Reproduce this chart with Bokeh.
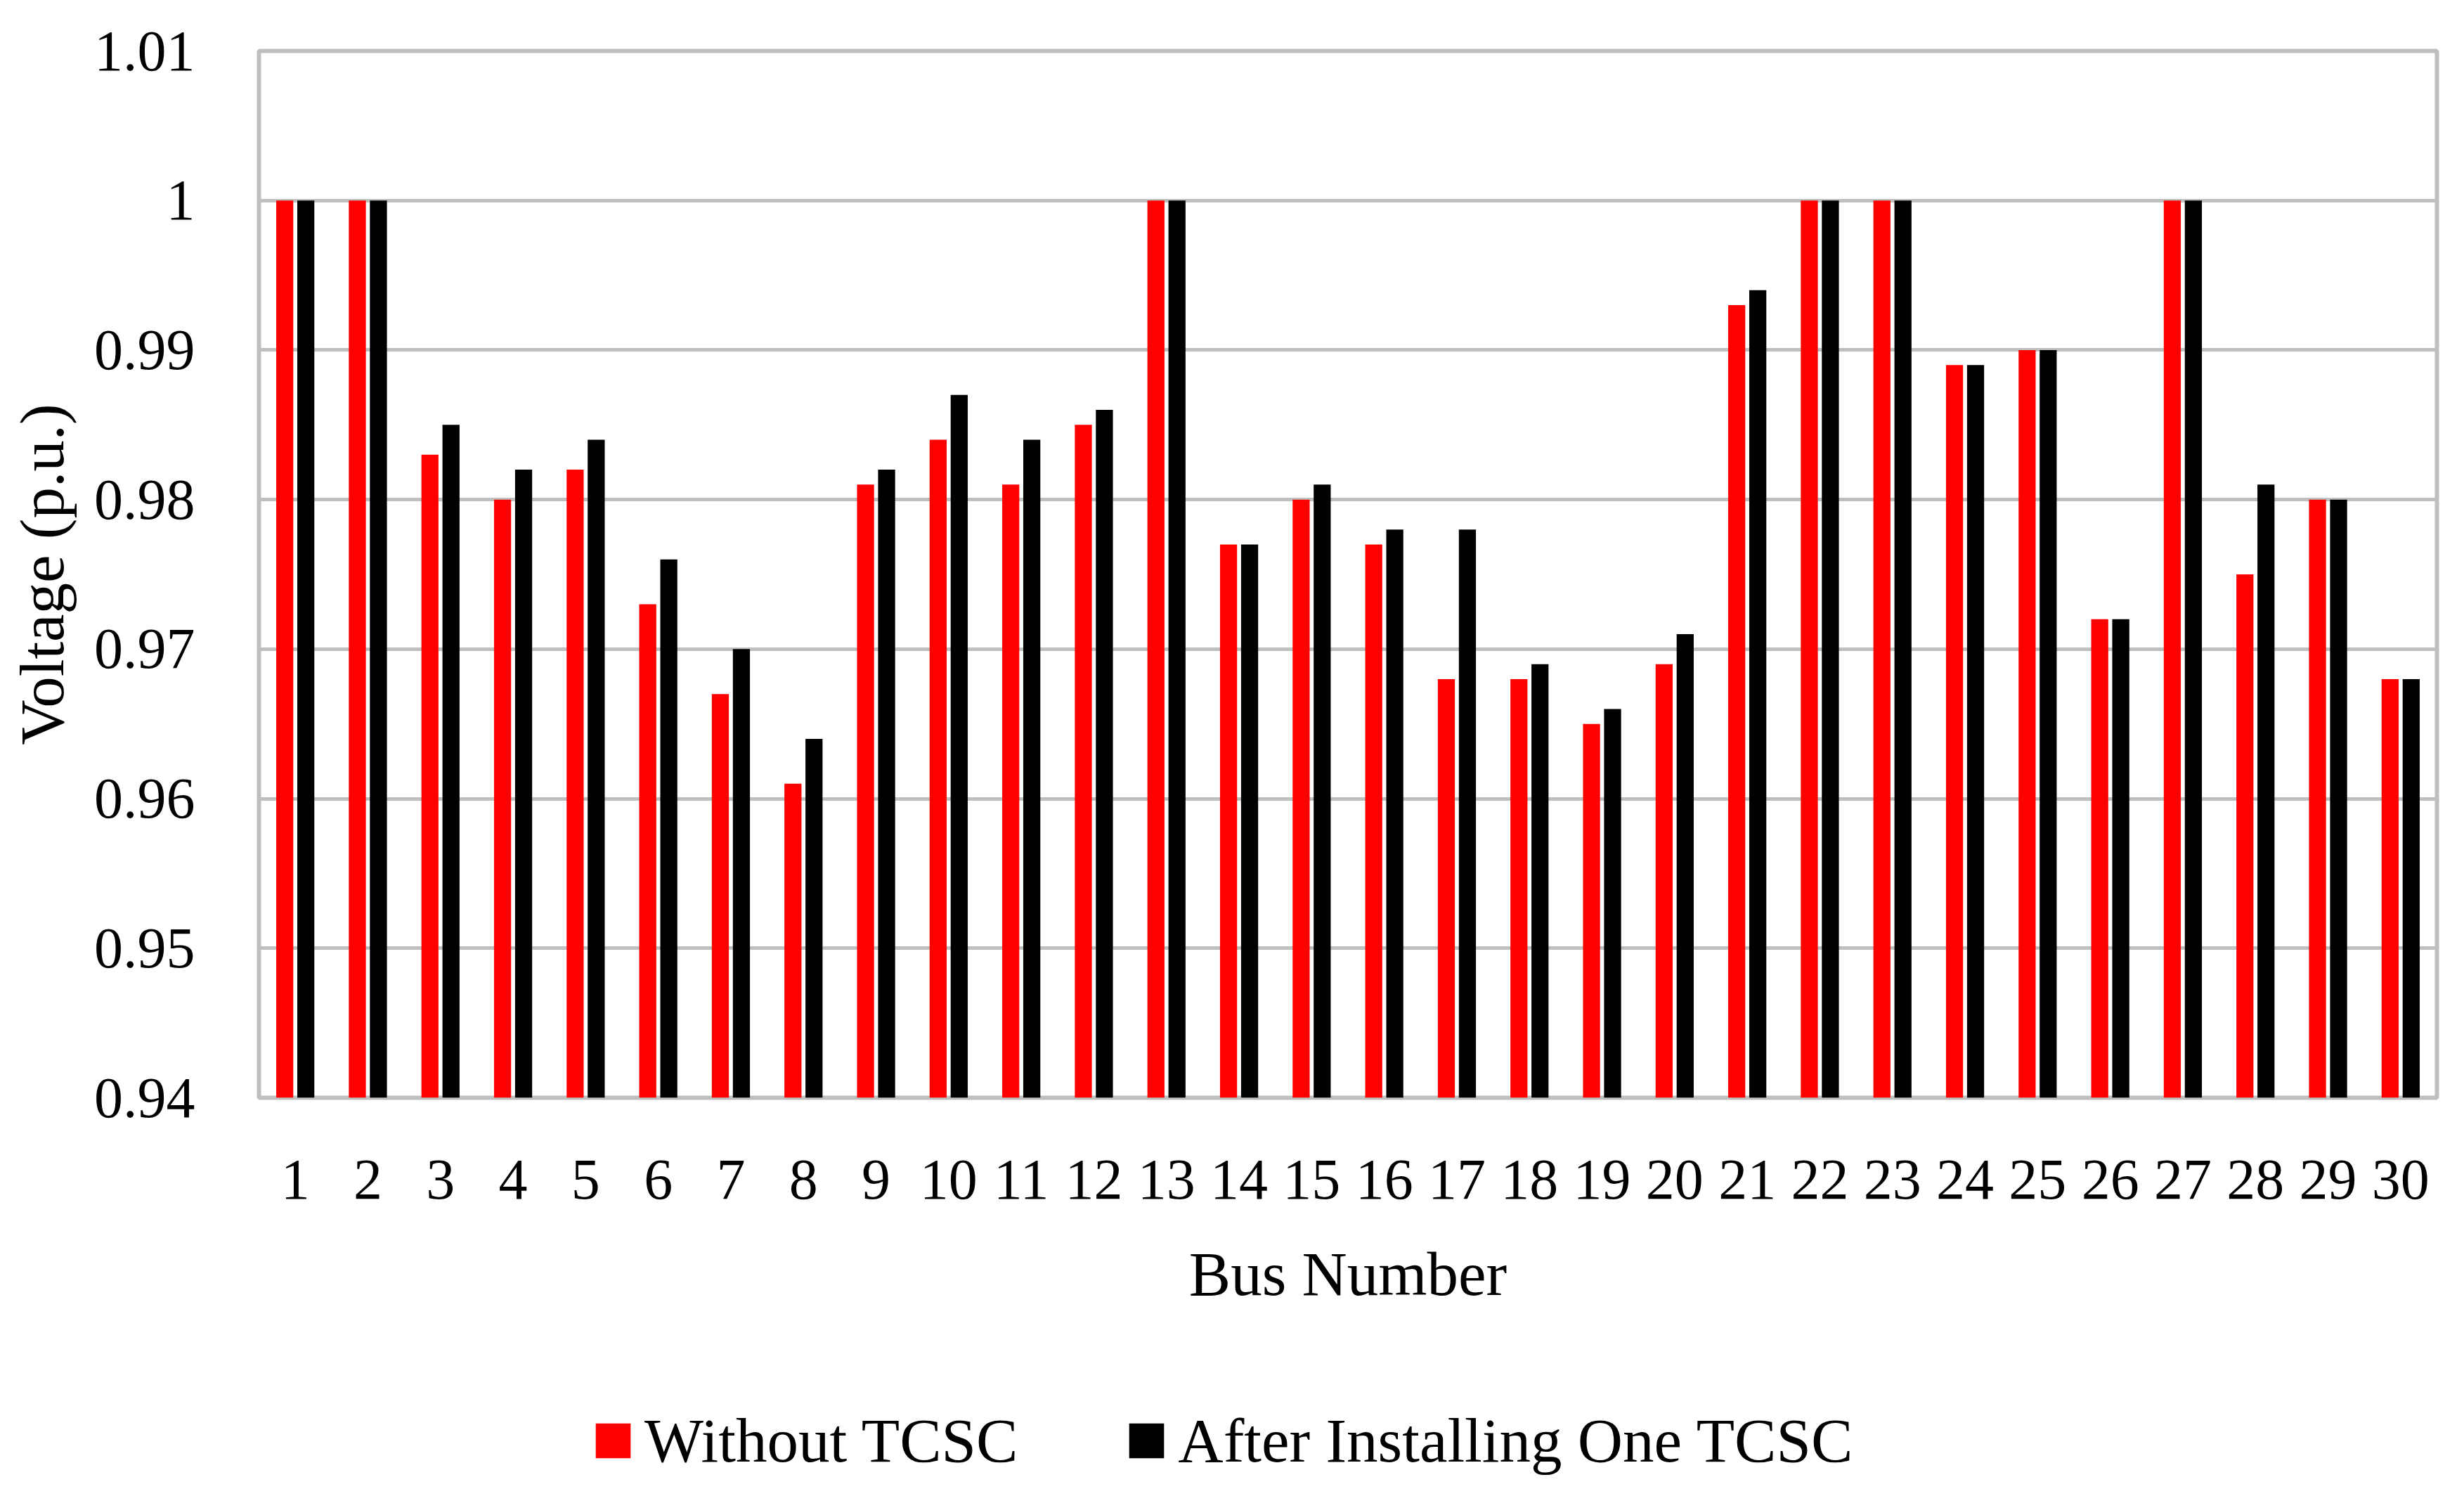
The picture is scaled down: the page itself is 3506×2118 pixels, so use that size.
from bokeh.plotting import figure
from bokeh.layouts import column
from bokeh.models import (FactorRange, Range1d, FixedTicker, CustomJSTickFormatter,
                          Legend, LegendItem, ColumnDataSource)
from bokeh.transform import dodge
from bokeh.embed import file_html
from bokeh.resources import INLINE

# ---------------- data ----------------
buses = [str(i) for i in range(1, 31)]
without_tcsc = [1.000, 1.000, 0.983, 0.980, 0.982, 0.973, 0.967, 0.961, 0.981, 0.984,
                0.981, 0.985, 1.000, 0.977, 0.980, 0.977, 0.968, 0.968, 0.965, 0.969,
                0.993, 1.000, 1.000, 0.989, 0.990, 0.972, 1.000, 0.975, 0.980, 0.968]
one_tcsc = [1.000, 1.000, 0.985, 0.982, 0.984, 0.976, 0.970, 0.964, 0.982, 0.987,
            0.984, 0.986, 1.000, 0.977, 0.981, 0.978, 0.978, 0.969, 0.966, 0.971,
            0.994, 1.000, 1.000, 0.989, 0.990, 0.972, 1.000, 0.981, 0.980, 0.968]
y_ticks = [0.94, 0.95, 0.96, 0.97, 0.98, 0.99, 1.00, 1.01]
series_names = ["Without TCSC", "After Installing One TCSC"]
series_colors = ["#FF0000", "#000000"]
x_title = "Bus Number"
y_title = "Voltage (p.u.)"

FONT = "Liberation Serif"
TICK_SIZE = "82px"
TITLE_SIZE = "89px"

src = ColumnDataSource(dict(bus=buses, a=without_tcsc, b=one_tcsc))

p = figure(width=3490, height=1900, x_range=FactorRange(*buses),
           y_range=Range1d(y_ticks[0], y_ticks[-1]),
           output_backend="svg", toolbar_location=None,
           min_border_left=368, min_border_right=23, min_border_top=72, min_border_bottom=339)

p.background_fill_color = "white"
p.border_fill_color = "white"
p.outline_line_color = "#BFBFBF"
p.outline_line_width = 6

p.vbar(x=dodge("bus", -0.145, range=p.x_range), top="a", bottom=y_ticks[0],
       width=0.235, source=src, fill_color=series_colors[0], line_color=None)
p.vbar(x=dodge("bus", 0.145, range=p.x_range), top="b", bottom=y_ticks[0],
       width=0.235, source=src, fill_color=series_colors[1], line_color=None)

# grid
p.xgrid.grid_line_color = None
p.ygrid.grid_line_color = "#BFBFBF"
p.ygrid.grid_line_width = 5

# y axis
p.yaxis.ticker = FixedTicker(ticks=y_ticks)
p.yaxis.formatter = CustomJSTickFormatter(
    code="return Math.abs(tick - 1) < 1e-6 ? '1' : tick.toFixed(2);")
p.yaxis.axis_line_color = None
p.yaxis.major_tick_line_color = None
p.yaxis.minor_tick_line_color = None
p.yaxis.major_tick_out = 0
p.yaxis.major_tick_in = 0
p.yaxis.major_label_standoff = 91
p.yaxis.major_label_text_font = FONT
p.yaxis.major_label_text_font_size = TICK_SIZE
p.yaxis.major_label_text_color = "black"
p.yaxis.axis_label = y_title
p.yaxis.axis_label_text_font = FONT
p.yaxis.axis_label_text_font_size = TITLE_SIZE
p.yaxis.axis_label_text_font_style = "normal"
p.yaxis.axis_label_text_color = "black"
p.yaxis.axis_label_standoff = 22

# x axis
p.xaxis.axis_line_color = None
p.xaxis.major_tick_line_color = None
p.xaxis.minor_tick_line_color = None
p.xaxis.major_tick_out = 0
p.xaxis.major_tick_in = 0
p.xaxis.major_label_standoff = 89
p.xaxis.major_label_text_font = FONT
p.xaxis.major_label_text_font_size = TICK_SIZE
p.xaxis.major_label_text_color = "black"
p.xaxis.axis_label = x_title
p.xaxis.axis_label_text_font = FONT
p.xaxis.axis_label_text_font_size = TITLE_SIZE
p.xaxis.axis_label_text_font_style = "normal"
p.xaxis.axis_label_text_color = "black"
p.xaxis.axis_label_standoff = 55

# ---------------- legend strip (below the chart) ----------------
p2 = figure(width=3490, height=210, x_range=p.x_range, y_range=p.y_range,
            output_backend="svg", toolbar_location=None,
            x_axis_location=None, y_axis_location=None, min_border=0)
p2.outline_line_color = None
p2.grid.grid_line_color = None
p2.background_fill_color = "white"
p2.border_fill_color = "white"
g1 = p2.vbar(x=dodge("bus", -0.145, range=p.x_range), top="a", bottom=y_ticks[0],
             width=0.235, source=src, fill_color=series_colors[0], line_color=None,
             visible=False)
g2 = p2.vbar(x=dodge("bus", 0.145, range=p.x_range), top="b", bottom=y_ticks[0],
             width=0.235, source=src, fill_color=series_colors[1], line_color=None,
             visible=False)

legend = Legend(items=[LegendItem(label=series_names[0], renderers=[g1]),
                       LegendItem(label=series_names[1], renderers=[g2])],
                orientation="horizontal", location=(473, 10),
                glyph_width=62, glyph_height=62, label_standoff=14, spacing=152,
                padding=0, margin=0, border_line_color=None, background_fill_alpha=0,
                inactive_fill_alpha=0,
                label_text_font=FONT, label_text_font_size=TITLE_SIZE,
                label_text_color="black")
p2.add_layout(legend)

layout = column(p, p2, spacing=0)
open("out.html", "w").write(file_html(layout, INLINE))
